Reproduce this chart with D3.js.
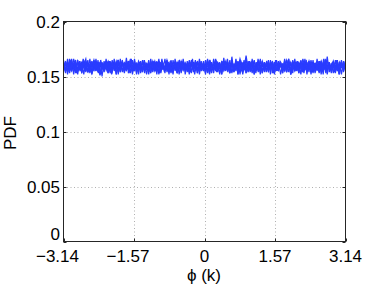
<!DOCTYPE html>
<html><head><meta charset="utf-8">
<script src="https://cdn.jsdelivr.net/npm/d3@7"></script>
<style>
html,body{margin:0;padding:0;background:#fff;}
svg{display:block;font-family:"Liberation Sans",Arial,Helvetica,sans-serif;}
</style></head>
<body>
<svg id="c" width="382" height="286"></svg>
<script>
const xTicks = [-3.14, -1.57, 0, 1.57, 3.14];
const xTickLabels = ["\u22123.14", "\u22121.57", "0", "1.57", "3.14"];
const yTicks = [0, 0.05, 0.1, 0.15, 0.2];
const yTickLabels = ["0", "0.05", "0.1", "0.15", "0.2"];
const xLabel = "\u03d5 (k)";
const yLabel = "PDF";

const seriesA = [0.161,0.157,0.163,0.159,0.155,0.162,0.158,0.164,0.156,0.160,0.163,0.157,0.154,0.161,0.159,0.165,0.158,0.156,0.162,0.160,
0.157,0.163,0.159,0.155,0.161,0.158,0.164,0.157,0.160,0.156,0.162,0.159,0.163,0.155,0.158,0.161,0.157,0.164,0.160,0.156,
0.159,0.162,0.158,0.154,0.161,0.163,0.157,0.160,0.156,0.162,0.158,0.165,0.159,0.155,0.161,0.157,0.163,0.158,0.160,0.156,
0.162,0.159,0.155,0.163,0.158,0.161,0.157,0.164,0.159,0.156,0.160,0.162,0.157,0.155,0.161,0.158,0.163,0.160,0.156,0.159,
0.164,0.157,0.161,0.155,0.159,0.162,0.158,0.166,0.160,0.156,0.161,0.157,0.163,0.159,0.155,0.160,0.162,0.158,0.164,0.157,
0.160,0.156,0.162,0.159,0.154,0.161,0.158,0.163,0.157,0.160,0.165,0.158,0.156,0.161,0.159,0.163,0.157,0.155,0.160,0.162,
0.158,0.164,0.156,0.161,0.159,0.157,0.163,0.160,0.155,0.162,0.158,0.161,0.157,0.164,0.159,0.156,0.160,0.162,0.158,0.161];
const seriesB = [0.158,0.162,0.156,0.160,0.164,0.157,0.161,0.155,0.159,0.163,0.158,0.156,0.162,0.160,0.153,0.159,0.163,0.157,0.161,0.158,
0.155,0.160,0.164,0.158,0.156,0.162,0.159,0.157,0.163,0.161,0.155,0.158,0.160,0.166,0.157,0.159,0.162,0.156,0.161,0.158,
0.163,0.157,0.155,0.160,0.159,0.164,0.156,0.162,0.158,0.160,0.157,0.161,0.163,0.155,0.159,0.162,0.158,0.156,0.164,0.159,
0.157,0.161,0.160,0.155,0.162,0.158,0.163,0.156,0.159,0.161,0.157,0.165,0.158,0.160,0.156,0.162,0.159,0.154,0.161,0.163,
0.158,0.156,0.160,0.162,0.157,0.164,0.159,0.155,0.161,0.158,0.169,0.157,0.160,0.163,0.156,0.159,0.161,0.155,0.162,0.158,
0.163,0.157,0.160,0.158,0.155,0.162,0.159,0.161,0.156,0.164,0.158,0.160,0.157,0.162,0.155,0.159,0.163,0.158,0.161,0.156,
0.160,0.157,0.163,0.159,0.155,0.161,0.158,0.162,0.156,0.160,0.164,0.157,0.159,0.162,0.155,0.161,0.158,0.163,0.157,0.160];
const seriesC = [0.160,0.155,0.159,0.162,0.158,0.166,0.157,0.161,0.159,0.154,0.162,0.158,0.160,0.156,0.163,0.159,0.157,0.161,0.152,0.158,
0.162,0.160,0.156,0.159,0.163,0.157,0.161,0.155,0.160,0.164,0.158,0.156,0.161,0.159,0.154,0.162,0.158,0.160,0.156,0.163,
0.159,0.157,0.161,0.158,0.162,0.155,0.160,0.163,0.157,0.159,0.156,0.162,0.160,0.158,0.155,0.161,0.159,0.164,0.157,0.160,
0.158,0.156,0.162,0.160,0.157,0.163,0.155,0.159,0.161,0.158,0.160,0.156,0.162,0.159,0.157,0.166,0.158,0.161,0.155,0.160,
0.162,0.158,0.156,0.161,0.159,0.157,0.163,0.160,0.155,0.162,0.158,0.160,0.156,0.161,0.164,0.158,0.157,0.160,0.155,0.162,
0.159,0.161,0.157,0.163,0.158,0.156,0.160,0.162,0.159,0.155,0.161,0.158,0.163,0.157,0.160,0.156,0.162,0.159,0.166,0.158,
0.156,0.161,0.159,0.157,0.162,0.160,0.155,0.163,0.158,0.161,0.157,0.159,0.156,0.162,0.160,0.158,0.155,0.161,0.159,0.157];
const seriesD = [0.157,0.163,0.159,0.156,0.161,0.158,0.162,0.155,0.160,0.157,0.164,0.159,0.161,0.156,0.158,0.163,0.160,0.155,0.162,0.158,
0.160,0.157,0.163,0.159,0.154,0.161,0.158,0.165,0.157,0.160,0.162,0.156,0.159,0.161,0.157,0.163,0.155,0.160,0.158,0.162,
0.156,0.161,0.159,0.157,0.164,0.158,0.160,0.155,0.162,0.159,0.157,0.161,0.156,0.163,0.158,0.160,0.154,0.161,0.159,0.162,
0.160,0.157,0.159,0.163,0.156,0.161,0.158,0.155,0.162,0.160,0.157,0.159,0.164,0.158,0.156,0.161,0.160,0.157,0.163,0.155,
0.159,0.161,0.157,0.160,0.156,0.162,0.158,0.164,0.160,0.157,0.161,0.155,0.159,0.163,0.158,0.156,0.162,0.160,0.157,0.159,
0.161,0.155,0.163,0.158,0.160,0.157,0.162,0.159,0.156,0.161,0.158,0.164,0.157,0.160,0.162,0.156,0.159,0.161,0.157,0.160,
0.158,0.163,0.156,0.160,0.162,0.157,0.159,0.164,0.155,0.161,0.158,0.160,0.157,0.162,0.159,0.156,0.163,0.158,0.160,0.161];
const seriesE = [0.165,0.153,0.163,0.155,0.166,0.152,0.162,0.156,0.164,0.153,0.161,0.166,0.154,0.160,0.152,0.165,0.155,0.163,0.151,0.162,
0.154,0.166,0.153,0.164,0.156,0.162,0.152,0.165,0.155,0.163,0.154,0.167,0.153,0.161,0.155,0.164,0.152,0.163,0.156,0.165,
0.153,0.162,0.154,0.166,0.155,0.163,0.152,0.164,0.156,0.161,0.153,0.165,0.154,0.162,0.152,0.166,0.155,0.163,0.153,0.164,
0.156,0.162,0.152,0.165,0.154,0.163,0.153,0.166,0.155,0.161,0.153,0.164,0.152,0.162,0.156,0.165,0.154,0.163,0.152,0.167,
0.155,0.162,0.153,0.164,0.154,0.166,0.152,0.163,0.155,0.165,0.153,0.162,0.156,0.164,0.152,0.163,0.154,0.166,0.153,0.162,
0.155,0.165,0.152,0.163,0.154,0.164,0.156,0.162,0.153,0.166,0.154,0.163,0.152,0.165,0.155,0.162,0.153,0.164,0.154,0.166,
0.152,0.163,0.155,0.165,0.153,0.162,0.154,0.164,0.152,0.166,0.155,0.163,0.153,0.162,0.154,0.165,0.152,0.163,0.155,0.164];
const seriesF = [0.154,0.164,0.152,0.166,0.155,0.162,0.153,0.165,0.156,0.163,0.152,0.164,0.154,0.166,0.153,0.162,0.155,0.165,0.152,0.163,
0.156,0.164,0.153,0.162,0.155,0.166,0.152,0.163,0.154,0.165,0.153,0.162,0.156,0.164,0.152,0.166,0.154,0.163,0.153,0.165,
0.155,0.162,0.152,0.164,0.154,0.163,0.156,0.166,0.153,0.162,0.155,0.164,0.152,0.165,0.154,0.163,0.153,0.162,0.155,0.166,
0.152,0.164,0.154,0.163,0.156,0.165,0.153,0.162,0.155,0.164,0.152,0.166,0.154,0.163,0.153,0.165,0.155,0.162,0.152,0.164,
0.156,0.163,0.153,0.168,0.154,0.162,0.152,0.165,0.155,0.163,0.153,0.164,0.154,0.166,0.152,0.162,0.155,0.165,0.153,0.163,
0.154,0.162,0.156,0.164,0.152,0.165,0.155,0.163,0.153,0.162,0.154,0.166,0.152,0.164,0.155,0.163,0.153,0.165,0.154,0.162,
0.156,0.164,0.152,0.163,0.155,0.166,0.153,0.162,0.154,0.165,0.152,0.163,0.156,0.164,0.153,0.162,0.155,0.165,0.154,0.163];
const seriesG = [0.163,0.155,0.166,0.153,0.162,0.157,0.165,0.152,0.164,0.156,0.163,0.154,0.165,0.153,0.162,0.155,0.166,0.154,0.163,0.150,
0.164,0.156,0.162,0.153,0.165,0.155,0.163,0.152,0.166,0.154,0.162,0.156,0.164,0.153,0.165,0.155,0.162,0.152,0.164,0.154,
0.163,0.156,0.165,0.153,0.162,0.155,0.164,0.152,0.163,0.156,0.166,0.154,0.162,0.153,0.165,0.155,0.163,0.152,0.164,0.156,
0.162,0.154,0.165,0.153,0.163,0.155,0.164,0.152,0.162,0.156,0.165,0.154,0.163,0.153,0.166,0.155,0.162,0.152,0.164,0.156,
0.163,0.154,0.165,0.153,0.162,0.155,0.164,0.152,0.163,0.156,0.166,0.154,0.162,0.153,0.165,0.155,0.163,0.152,0.164,0.156,
0.162,0.154,0.165,0.153,0.163,0.155,0.164,0.152,0.162,0.156,0.165,0.154,0.163,0.153,0.166,0.155,0.162,0.152,0.164,0.156,
0.163,0.154,0.165,0.153,0.162,0.155,0.164,0.152,0.163,0.156,0.168,0.154,0.162,0.153,0.165,0.155,0.163,0.152,0.164,0.155];
const seriesH = [0.156,0.162,0.154,0.165,0.157,0.163,0.153,0.161,0.155,0.166,0.158,0.162,0.154,0.164,0.156,0.163,0.153,0.165,0.157,0.161,
0.155,0.164,0.152,0.163,0.156,0.165,0.154,0.162,0.157,0.164,0.153,0.166,0.155,0.161,0.156,0.163,0.154,0.165,0.152,0.162,
0.157,0.164,0.155,0.163,0.153,0.166,0.156,0.162,0.154,0.164,0.157,0.161,0.153,0.165,0.155,0.163,0.156,0.162,0.154,0.166,
0.152,0.163,0.157,0.164,0.155,0.162,0.153,0.165,0.156,0.163,0.154,0.161,0.157,0.164,0.155,0.166,0.153,0.162,0.156,0.163,
0.154,0.165,0.152,0.162,0.157,0.164,0.155,0.163,0.153,0.166,0.156,0.161,0.154,0.164,0.157,0.162,0.153,0.165,0.155,0.163,
0.156,0.162,0.154,0.166,0.152,0.163,0.157,0.164,0.155,0.162,0.153,0.165,0.156,0.163,0.154,0.161,0.157,0.164,0.155,0.166,
0.153,0.162,0.156,0.163,0.154,0.165,0.152,0.162,0.157,0.164];
const allSeries = [seriesE, seriesF, seriesG, seriesH, seriesA, seriesB, seriesC, seriesD];

const L = 63.5, R = 345.5, T = 21.5, B = 241.5;
const svg = d3.select("#c");
const x = d3.scaleLinear().domain([-3.14, 3.14]).range([L, R]);
const y = d3.scaleLinear().domain([0, 0.2]).range([B, T]);

// grid
const grid = svg.append("g").attr("stroke", "#b0b0b0").attr("stroke-width", 1).attr("stroke-dasharray", "1,2.5");
grid.selectAll("line.gx").data(xTicks.slice(1, -1)).join("line")
  .attr("x1", d => Math.round(x(d)) + 0.5).attr("x2", d => Math.round(x(d)) + 0.5)
  .attr("y1", T).attr("y2", B);
grid.selectAll("line.gy").data(yTicks.slice(1, -1)).join("line")
  .attr("y1", d => Math.round(y(d)) + 0.5).attr("y2", d => Math.round(y(d)) + 0.5)
  .attr("x1", L).attr("x2", R);

// lines
svg.append("clipPath").attr("id", "clp").append("rect")
  .attr("x", L).attr("y", T).attr("width", R - L).attr("height", B - T);
allSeries.forEach(s => {
  const n = s.length;
  const xi = d3.scaleLinear().domain([0, n - 1]).range(x.domain());
  const line = d3.line().x((d, i) => x(xi(i))).y(d => y(d));
  svg.append("path").datum(s).attr("d", line)
    .attr("fill", "none").attr("stroke", "#2a3cff").attr("stroke-width", 1.2)
    .attr("clip-path", "url(#clp)");
});

// axes box
svg.append("rect").attr("x", L).attr("y", T).attr("width", R - L).attr("height", B - T)
  .attr("fill", "none").attr("stroke", "#262626").attr("stroke-width", 1);

// ticks (inward, both sides)
const tk = svg.append("g").attr("stroke", "#262626").attr("stroke-width", 1);
xTicks.forEach(d => {
  const px = Math.round(x(d)) + 0.5;
  tk.append("line").attr("x1", px).attr("x2", px).attr("y1", B).attr("y2", B - 3);
  tk.append("line").attr("x1", px).attr("x2", px).attr("y1", T).attr("y2", T + 3);
});
yTicks.forEach(d => {
  const py = Math.round(y(d)) + 0.5;
  tk.append("line").attr("y1", py).attr("y2", py).attr("x1", L).attr("x2", L + 3);
  tk.append("line").attr("y1", py).attr("y2", py).attr("x1", R).attr("x2", R - 3);
});

// tick labels
const fs = 17;
svg.selectAll("text.xt").data(xTicks).join("text")
  .attr("x", (d) => x(d) + (d < 0 ? -6 : 0))
  .attr("y", 262)
  .attr("text-anchor", "middle").attr("font-size", fs).attr("fill", "#000")
  .text((d, i) => xTickLabels[i]);
svg.selectAll("text.yt").data(yTicks).join("text")
  .attr("x", 60)
  .attr("y", d => y(d) + (d === 0 ? -2 : 6))
  .attr("text-anchor", "end").attr("font-size", fs).attr("fill", "#000")
  .text((d, i) => yTickLabels[i]);

svg.append("text").attr("x", 204).attr("y", 281).attr("text-anchor", "middle")
  .attr("font-size", fs).attr("fill", "#000").text(xLabel);
svg.append("text").attr("transform", "translate(16,133) rotate(-90)").attr("text-anchor", "middle")
  .attr("font-size", fs).attr("fill", "#000").text(yLabel);
</script>
</body></html>
